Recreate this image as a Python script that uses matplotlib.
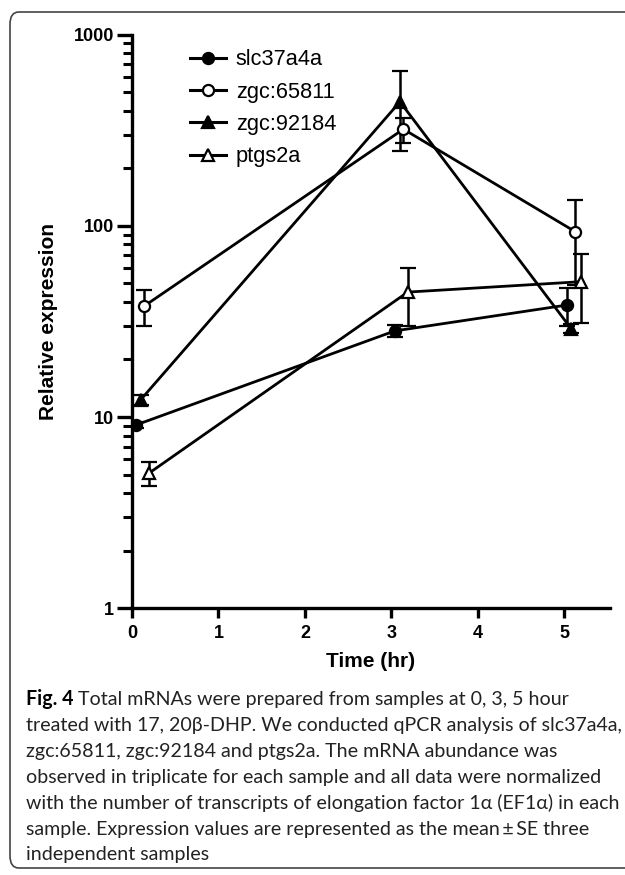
import matplotlib
matplotlib.use('Agg')
import matplotlib.pyplot as plt
from matplotlib.ticker import LogLocator, NullFormatter
from matplotlib.patches import FancyBboxPatch
from matplotlib.lines import Line2D

genes = ['slc37a4a', 'zgc:65811', 'zgc:92184', 'ptgs2a']

# time points as plotted (GraphPad nudges each series a little)
x_slc = [0.05, 3.04, 5.03]
x_65811 = [0.14, 3.14, 5.13]
x_92184 = [0.10, 3.10, 5.08]
x_ptgs = [0.20, 3.19, 5.19]

# mean relative expression
y_slc = [9.1, 28.2, 38.5]
y_65811 = [38, 320, 93]
y_92184 = [12.3, 445, 29]
y_ptgs = [5.1, 45, 51]

# standard error
se_slc = [0.35, 2.1, 8.5]
se_65811 = [8, 48, 44]
se_92184 = [0.7, 200, 1.6]
se_ptgs = [0.75, 15, 20]

x_ticks = [0, 1, 2, 3, 4, 5]
y_ticks = [1, 10, 100, 1000]
y_ticklabels = ['1', '10', '100', '1000']

caption_lines = [
    "Total mRNAs were prepared from samples at 0, 3, 5 hour",
    "treated with 17, 20\u03b2-DHP. We conducted qPCR analysis of slc37a4a,",
    "zgc:65811, zgc:92184 and ptgs2a. The mRNA abundance was",
    "observed in triplicate for each sample and all data were normalized",
    "with the number of transcripts of elongation factor 1\u03b1 (EF1\u03b1) in each",
    "sample. Expression values are represented as the mean\u2009\u00b1\u2009SE three",
    "independent samples",
]

plt.rcParams['font.family'] = ['Liberation Sans', 'DejaVu Sans']

fig = plt.figure(figsize=(6.25, 8.75), dpi=100)
W, H = 625, 875

# frame around the figure + caption
frame = FancyBboxPatch((10 / W, (H - 868) / H), 640 / W, 856 / H,
                       boxstyle='round,pad=0,rounding_size=0.014',
                       transform=fig.transFigure, fill=False,
                       edgecolor='#444444', linewidth=1.2, clip_on=False)
fig.patches.append(frame)

ax = fig.add_axes([132 / W, 1 - 608.3 / H, 478 / W, (608.3 - 34.5) / H])

series = [
    (x_slc, y_slc, se_slc, 'o', 'black'),
    (x_65811, y_65811, se_65811, 'o', 'white'),
    (x_92184, y_92184, se_92184, '^', 'black'),
    (x_ptgs, y_ptgs, se_ptgs, '^', 'white'),
]
handles = []
for (xs, ys, es, mk, fc), name in zip(series, genes):
    ax.errorbar(xs, ys, yerr=es, color='black', linewidth=2.0,
                marker=mk, markersize=8, markerfacecolor=fc,
                markeredgecolor='black', markeredgewidth=1.6,
                elinewidth=1.8, capsize=6, capthick=1.8)
    handles.append(Line2D([], [], color='black', linewidth=2.2, marker=mk,
                          markersize=8, markerfacecolor=fc,
                          markeredgecolor='black', markeredgewidth=1.6,
                          label=name))

ax.set_yscale('log')
ax.set_ylim(1, 1000)
ax.set_xlim(0, 5.53)
ax.set_yticks(y_ticks)
ax.set_yticklabels(y_ticklabels)
ax.yaxis.set_minor_locator(LogLocator(base=10, subs=range(2, 10)))
ax.yaxis.set_minor_formatter(NullFormatter())
ax.set_xticks(x_ticks)

for s in ['top', 'right']:
    ax.spines[s].set_visible(False)
for s in ['left', 'bottom']:
    ax.spines[s].set_linewidth(2.4)

ax.tick_params(axis='both', which='major', width=2.4, labelsize=13, direction='out')
ax.tick_params(axis='y', which='major', length=11, pad=2)
ax.tick_params(axis='y', which='minor', length=6.5, width=2.2)
ax.tick_params(axis='x', which='major', length=7, pad=5)
for lab in ax.get_xticklabels() + ax.get_yticklabels():
    lab.set_fontweight('bold')

ax.set_xlabel('Time (hr)', fontsize=15, fontweight='bold')
ax.set_ylabel('Relative expression', fontsize=15, fontweight='bold')
ax.xaxis.set_label_coords(0.5, -0.077)
ax.yaxis.set_label_coords(-0.155, 0.5)

ax.legend(handles=handles, loc='upper left', bbox_to_anchor=(0.09, 1.0),
          frameon=False, fontsize=15.7, handlelength=1.65, handletextpad=0.45,
          labelspacing=0.52, borderaxespad=0.28)

# caption
cap_font = ['Lato', 'DejaVu Sans']
cap_size = 14.1
base0 = 705
step = 25.9
fig_lbl = fig.text(26 / W, 1 - base0 / H, 'Fig. 4', fontsize=cap_size,
                   fontweight='bold', family=cap_font, va='baseline')
r = fig.canvas.get_renderer()
bb = fig_lbl.get_window_extent(r)
for i, line in enumerate(caption_lines):
    x0 = (bb.x1 + 5) / W if i == 0 else 26 / W
    fig.text(x0, 1 - (base0 + i * step) / H, line, fontsize=cap_size,
             family=cap_font, va='baseline', color='#222222')

fig.savefig('out.png', dpi=100)
